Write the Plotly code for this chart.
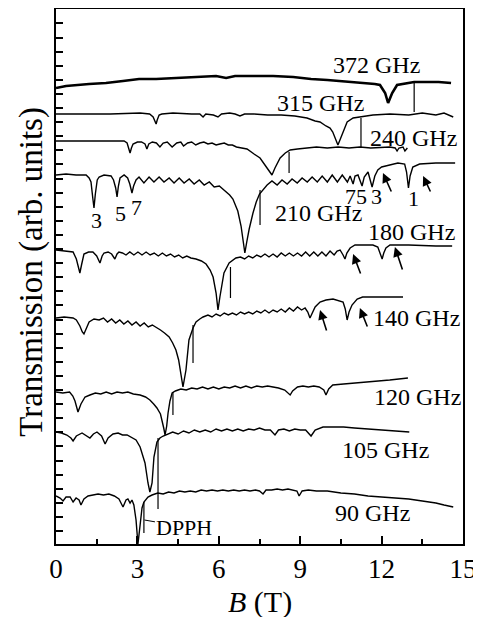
import plotly.graph_objects as go

# ---------------- data (B in tesla, transmission in arb. units, offset per trace) ----------------
spec_372 = [(0,456),(0.37,458),(1.22,460),(1.84,461),(2.47,463),(3.06,465),(3.69,465),(4.31,466),
            (5.16,467),(5.9,468),(6.27,466),(6.6,468),(7.0,468),(7.52,468),(8.0,468),(8.74,467),
            (9.4,465),(10.0,464),(10.9,462),(11.4,461),(11.75,460),(11.94,459),(12.13,451),(12.24,441),
            (12.39,451),(12.57,459),(12.94,461),(13.2,462),(13.6,462),(14.1,462),(14.56,461)]

spec_315 = [(0,430),(1.0,430),(2.0,430),(3.10,431),(3.45,430),(3.58,427),(3.65,421),(3.69,420),(3.73,424),
            (3.8,429),(3.9,430),(4.31,431),(5.0,430),(5.3,430),(5.42,427),(5.52,430),(5.8,429),(5.97,427),
            (6.1,430),(6.4,431),(6.6,430),(6.78,428),(6.95,430),(7.3,430),(7.8,429),(8.3,429),(8.8,428),
            (9.25,426),(9.55,423),(9.73,422),(9.95,418),(10.1,416),(10.2,412),(10.28,407),(10.35,402),
            (10.39,399),(10.45,403),(10.54,409),(10.63,416),(10.73,422),(10.95,426),(11.24,427),(11.68,429),
            (12.31,430),(13.0,429),(13.5,431),(14.0,429),(14.3,431),(14.64,427)]

spec_240 = [(0,403),(1.0,403),(2.0,403),(2.51,403),(2.62,401),(2.68,396),(2.73,391),(2.78,396),(2.84,400),
            (3.0,402),(3.15,402),(3.28,400),(3.35,395),(3.42,400),(3.55,402),(3.7,401),(3.83,397),(3.95,401),
            (4.1,402),(4.28,397),(4.45,401),(4.6,402),(4.7,398),(4.85,401),(5.0,402),(5.15,399),(5.3,401),
            (5.45,402),(5.6,400),(5.75,401),(5.9,399),(6.04,400),(6.2,401),(6.35,399),(6.5,399),(6.65,397),
            (6.8,396),(7.04,395),(7.3,390),(7.52,386),(7.7,379),(7.82,374),(7.96,369),(8.07,376),(8.26,386),
            (8.45,391),(8.63,394),(8.9,395),(9.25,396),(9.6,397),(10.0,396),(10.4,397),(10.8,396),(11.2,397),
            (11.6,396),(12.0,397),(12.3,397),(12.5,396),(12.57,393),(12.64,396),(12.79,397),(12.86,393),(12.95,396)]

spec_210 = [(0,369),(0.37,370),(0.74,369),(1.11,369),(1.22,366),(1.29,362),(1.36,345),(1.40,336),(1.45,350),
            (1.52,364),(1.59,367),(1.77,369),(2.03,368),(2.12,364),(2.2,356),(2.25,347),(2.3,358),(2.36,366),
            (2.51,369),(2.64,366),(2.72,360),(2.8,351),(2.86,358),(2.95,364),(3.06,367),(3.24,361),(3.43,367),
            (3.61,362),(3.80,367),(3.98,362),(4.17,366),(4.35,361),(4.54,366),(4.72,361),(4.91,365),(5.09,360),
            (5.28,364),(5.46,359),(5.65,362),(5.83,357),(6.02,358),(6.2,354),(6.4,349),(6.52,345),(6.7,333),
            (6.82,318),(6.9,303),(6.96,291),(7.03,302),(7.12,315),(7.26,331),(7.38,342),(7.5,350),(7.65,355),
            (7.78,359),(7.96,363),(8.15,359),(8.33,364),(8.52,360),(8.7,365),(8.89,361),(9.07,366),(9.26,362),
            (9.44,367),(9.63,362),(9.81,368),(10.0,362),(10.18,369),(10.37,362),(10.55,369),(10.74,362),
            (10.84,368),(10.95,360),(11.02,368),(11.13,369),(11.28,358),(11.36,367),(11.5,372),(11.65,357),
            (11.75,368),(11.86,374),(12.0,377),(12.3,379),(12.6,381),(12.85,380),(12.92,372),(12.99,356),
            (13.05,368),(13.15,377),(13.4,380),(14.0,381),(14.71,381)]

spec_180 = [(0,294),(0.35,293),(0.63,292),(0.75,285),(0.83,276),(0.88,271),(0.94,279),(1.03,290),(1.2,292),
            (1.36,292),(1.5,288),(1.62,281),(1.7,288),(1.77,291),(1.92,292),(2.05,290),(2.17,285),(2.25,290),
            (2.32,292),(2.45,291),(2.58,289),(2.72,292),(2.87,289),(3.02,292),(3.17,289),(3.32,292),(3.47,289),
            (3.62,291),(3.77,288),(3.92,291),(4.07,288),(4.22,290),(4.37,287),(4.52,289),(4.67,286),(4.82,288),
            (4.97,286),(5.16,285),(5.36,283),(5.53,280),(5.68,274),(5.79,267),(5.9,251),(5.97,234),(6.04,247),
            (6.19,271),(6.38,281),(6.63,286),(6.8,287),(6.95,285),(7.1,288),(7.25,286),(7.4,289),(7.55,287),
            (7.7,290),(7.85,287),(8.0,290),(8.15,287),(8.3,291),(8.45,288),(8.6,291),(8.75,288),(8.9,291),
            (9.05,288),(9.2,292),(9.35,288),(9.5,292),(9.65,288),(9.8,292),(9.95,288),(10.1,293),(10.25,289),
            (10.36,293),(10.47,294),(10.58,289),(10.65,285),(10.72,291),(10.84,296),(11.02,299),(11.4,299),
            (11.68,299),(11.86,297),(11.95,290),(12.02,285),(12.08,291),(12.16,296),(12.31,299),(13.0,299),
            (14.0,298),(14.6,298)]

spec_140 = [(0,226),(0.3,227),(0.63,226),(0.75,224),(0.88,218),(0.97,212),(1.03,210),(1.1,215),(1.22,222),
            (1.4,225),(1.59,224),(1.75,226),(1.9,222),(2.05,225),(2.2,221),(2.35,224),(2.5,220),(2.65,223),
            (2.8,219),(2.95,222),(3.1,218),(3.25,221),(3.4,217),(3.55,219),(3.69,217),(3.85,214),(4.0,211),
            (4.17,207),(4.3,201),(4.42,194),(4.52,184),(4.57,174),(4.68,157),(4.79,174),(4.9,204),(5.05,216),
            (5.16,222),(5.3,225),(5.42,227),(5.6,229),(5.75,227),(5.9,230),(6.05,228),(6.2,231),(6.35,229),
            (6.5,231),(6.65,229),(6.8,232),(6.95,230),(7.1,232),(7.25,230),(7.4,233),(7.55,231),(7.7,234),
            (7.85,231),(8.0,234),(8.15,232),(8.3,235),(8.45,232),(8.6,236),(8.75,233),(8.9,237),(9.05,234),
            (9.18,236),(9.28,232),(9.36,226),(9.45,232),(9.55,237),(9.73,242),(9.95,244),(10.21,245),
            (10.45,243),(10.58,242),(10.66,235),(10.73,224),(10.8,232),(10.91,239),(11.1,245),(11.3,247),
            (11.68,247),(12.2,247),(12.79,247)]

spec_120 = [(0,152),(0.25,151),(0.5,152),(0.62,148),(0.70,143),(0.81,132),(0.92,140),(1.07,147),(1.25,149),
            (1.45,151),(1.65,150),(1.85,152),(2.05,150),(2.25,152),(2.45,151),(2.65,152),(2.85,150),(3.10,149),
            (3.30,147),(3.46,144),(3.60,140),(3.72,136),(3.85,130),(3.91,124),(3.97,116),(4.02,109),(4.08,118),
            (4.13,131),(4.2,143),(4.28,151),(4.4,153),(4.6,155),(4.8,154),(5.0,156),(5.2,155),(5.4,157),
            (5.6,155),(5.8,157),(6.0,155),(6.2,157),(6.4,156),(6.6,158),(6.8,156),(7.0,158),(7.2,156),(7.4,158),
            (7.6,157),(7.8,158),(8.0,157),(8.2,156),(8.43,154),(8.55,151),(8.63,149),(8.72,153),(8.9,157),
            (9.1,158),(9.3,157),(9.5,158),(9.7,157),(9.87,154),(9.95,149),(10.05,155),(10.2,159),(10.6,160),
            (11.0,161),(11.68,162),(12.3,164),(12.97,166)]

spec_105 = [(0,112),(0.2,111),(0.4,109),(0.55,106),(0.63,103),(0.75,108),(0.96,111),(1.12,108),(1.25,106),
            (1.38,110),(1.51,112),(1.68,108),(1.81,100),(1.92,106),(2.1,110),(2.29,111),(2.45,109),(2.62,109),
            (2.8,106),(2.95,104),(3.10,97),(3.28,81),(3.39,61),(3.46,52),(3.54,61),(3.61,87),(3.72,102),
            (3.83,106),(3.95,108),(4.1,110),(4.3,112),(4.5,110),(4.7,113),(4.9,111),(5.1,114),(5.3,112),
            (5.5,114),(5.7,112),(5.9,115),(6.1,113),(6.3,115),(6.5,113),(6.7,115),(6.9,113),(7.1,115),(7.3,114),
            (7.5,116),(7.7,114),(7.9,114),(8.07,109),(8.2,114),(8.4,115),(8.6,113),(8.8,115),(9.0,114),(9.2,114),
            (9.40,108),(9.55,114),(9.84,117),(10.2,117),(10.6,117),(11.0,116),(11.5,115),(12.0,114),(12.5,113),
            (13.02,112)]

spec_90 = [(0,48),(0.15,46),(0.26,43),(0.37,47),(0.52,47),(0.63,42),(0.74,46),(0.85,44),(0.92,39),(1.03,45),
           (1.18,48),(1.35,49),(1.55,50),(1.75,49),(1.95,50),(2.15,48),(2.32,45),(2.47,37),(2.58,44),(2.65,45),
           (2.73,41),(2.80,44),(2.87,39),(2.95,24),(3.02,0),(3.10,19),(3.17,36),(3.24,42),(3.39,47),(3.54,49),
           (3.75,51),(3.95,50),(4.15,52),(4.35,51),(4.55,53),(4.75,52),(4.95,53),(5.15,52),(5.35,54),(5.55,53),
           (5.75,54),(5.95,53),(6.15,54),(6.35,53),(6.55,54),(6.75,53),(6.95,54),(7.15,53),(7.35,54),(7.5,53),
           (7.63,50),(7.74,54),(7.95,54),(8.15,55),(8.35,54),(8.55,55),(8.75,54),(8.88,53),(8.96,48),(9.07,53),
           (9.3,54),(9.6,53),(10.0,53),(10.5,51),(11.0,50),(11.5,48),(12.0,47),(12.5,46),(13.0,45),(13.5,43),
           (14.0,41),(14.3,39),(14.64,37)]

spectra = [spec_372, spec_315, spec_240, spec_210, spec_180, spec_140, spec_120, spec_105, spec_90]
line_widths = [2.6, 1.4, 1.4, 1.4, 1.4, 1.4, 1.4, 1.4, 1.4]

# DPPH marker lines: field, top, bottom
dpph_B = [13.2, 11.24, 8.59, 7.52, 6.43, 5.05, 4.31, 3.76, 3.24]
dpph_top = [462, 426, 392, 354, 277, 219, 152, 106, 42]
dpph_bot = [432, 397, 371, 319, 246, 181, 129, 35, 11]

freq_labels = ["372 GHz", "315 GHz", "240 GHz", "210 GHz", "180 GHz", "140 GHz", "120 GHz", "105 GHz", "90 GHz"]
freq_label_B = [11.83, 9.73, 13.16, 9.66, 13.09, 13.27, 13.34, 12.16, 11.68]
freq_label_T = [479, 441, 406, 331, 312, 226, 147, 94, 31]

order_labels = ["3", "5", "7", "75", "3", "1"]
order_B = [1.51, 2.36, 2.95, 11.06, 11.83, 13.16]
order_T = [324, 331, 337, 348, 348, 346]

arrow_B = [12.05, 13.53, 10.95, 12.49, 9.73, 11.2]
arrow_T = [371, 368, 290, 297, 234, 236]

x_ticks = [0, 3, 6, 9, 12, 15]

# ---------------- figure ----------------
fig = go.Figure()
for pts, w in zip(spectra, line_widths):
    fig.add_trace(go.Scatter(x=[p[0] for p in pts], y=[p[1] for p in pts], mode="lines",
                             line=dict(color="black", width=w), showlegend=False, hoverinfo="skip"))
for b, t0, t1 in zip(dpph_B, dpph_top, dpph_bot):
    fig.add_trace(go.Scatter(x=[b, b], y=[t0, t1], mode="lines",
                             line=dict(color="black", width=1.2), showlegend=False, hoverinfo="skip"))

serif = "Liberation Serif"
ann = []
for txt, b, t in zip(freq_labels, freq_label_B, freq_label_T):
    ann.append(dict(x=b, y=t, text=txt, showarrow=False, font=dict(family=serif, size=24, color="black")))
for txt, b, t in zip(order_labels, order_B, order_T):
    ann.append(dict(x=b, y=t, text=txt, showarrow=False, font=dict(family=serif, size=22, color="black")))
arrow_dx = [9, 8, 8, 8, 7, 8]
arrow_dy = [20, 17, 21, 24, 22, 20]
for b, t, dx, dy in zip(arrow_B, arrow_T, arrow_dx, arrow_dy):
    ann.append(dict(x=b, y=t, ax=dx, ay=dy, text="", showarrow=True, arrowhead=2, arrowsize=1.2,
                    arrowwidth=1.6, arrowcolor="black", standoff=0))
ann.append(dict(x=3.26, y=24, ax=40, ay=7, text="DPPH", showarrow=True, arrowhead=0, arrowwidth=1,
                arrowcolor="black", font=dict(family=serif, size=22, color="black")))
ann.append(dict(xref="paper", yref="paper", x=-0.06, y=0.508, text="Transmission (arb. units)",
                textangle=-90, showarrow=False, font=dict(family=serif, size=33, color="black"),
                xanchor="center", yanchor="middle"))
ann.append(dict(xref="paper", yref="paper", x=0.501, y=-0.108, text="<i>B</i> (T)",
                showarrow=False, font=dict(family=serif, size=30, color="black"),
                xanchor="center", yanchor="middle"))

# page body adds an 8 px margin, so the figure is sized to fit the 481x617 window
fig.update_layout(
    width=473, height=609,
    margin=dict(l=48, r=18, t=1, b=73, autoexpand=False),
    paper_bgcolor="white", plot_bgcolor="white",
    annotations=ann,
    xaxis=dict(range=[0, 15], tickvals=x_ticks, ticks="inside", ticklen=8, tickwidth=1.5,
               tickcolor="black", showline=True, linewidth=2, linecolor="black", mirror=True,
               showgrid=False, zeroline=False, automargin=False,
               tickfont=dict(family=serif, size=27, color="black"),
               minor=dict(dtick=1.5, tick0=0, ticks="inside", ticklen=5, tickwidth=1.5, tickcolor="black")),
    yaxis=dict(range=[0, 535], tick0=13, dtick=14.1, ticks="inside", ticklen=7, tickwidth=1.5,
               tickcolor="black", showticklabels=False, showline=True, linewidth=2, linecolor="black",
               mirror=True, showgrid=False, zeroline=False, automargin=False),
)

fig.write_html("out.html")
